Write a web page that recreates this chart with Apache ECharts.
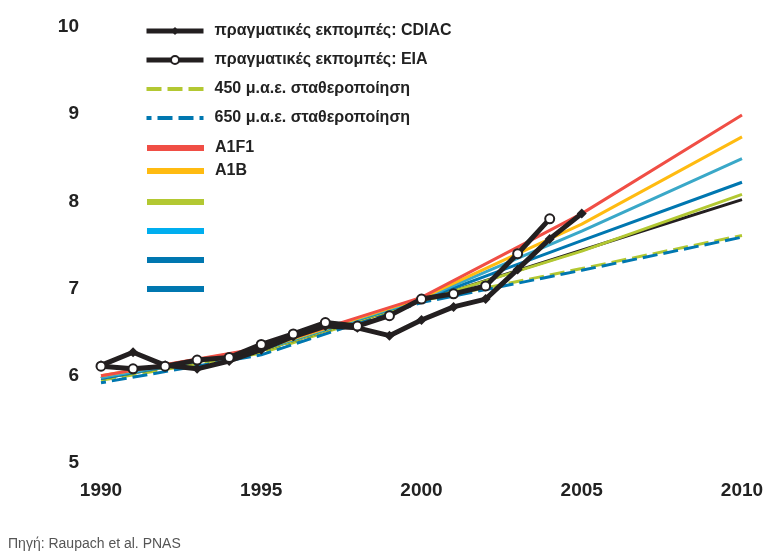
<!DOCTYPE html>
<html>
<head>
<meta charset="utf-8">
<script src="https://cdn.jsdelivr.net/npm/echarts@6/dist/echarts.min.js"></script>
<style>html,body{margin:0;padding:0;background:#fff;}#c{width:768px;height:552px;}</style>
</head>
<body>
<div id="c"></div>
<script>
// ---- data ----
const cdiacYears = [1990,1991,1992,1993,1994,1995,1996,1997,1998,1999,2000,2001,2002,2003,2004,2005];
const cdiac = [6.12,6.27,6.12,6.08,6.17,6.30,6.45,6.57,6.55,6.46,6.64,6.79,6.88,7.22,7.57,7.86];
const eiaYears = [1990,1991,1992,1993,1994,1995,1996,1997,1998,1999,2000,2001,2002,2003,2004];
const eia = [6.11,6.08,6.11,6.18,6.21,6.36,6.48,6.61,6.57,6.69,6.88,6.94,7.03,7.40,7.80];
const scenYears = [1990,1995,2000,2005,2010];
const a1f1 = [6.00,6.32,6.90,7.86,8.99];
const a1b  = [6.00,6.31,6.89,7.74,8.74];
const a1t  = [5.98,6.30,6.88,7.66,8.49];
const a2   = [5.97,6.30,6.87,7.55,8.22];
const b1   = [5.97,6.29,6.86,7.43,8.08];
const b2   = [5.97,6.29,6.86,7.44,8.02];
const s450 = [5.95,6.26,6.86,7.23,7.61];
const s650 = [5.92,6.24,6.84,7.21,7.59];
const yTicks = [5,6,7,8,9,10];
const xTicks = [1990,1995,2000,2005,2010];
const names = {
  cdiac: 'πραγματικές εκπομπές: CDIAC',
  eia: 'πραγματικές εκπομπές: EIA',
  s450: '450 μ.α.ε. σταθεροποίηση',
  s650: '650 μ.α.ε. σταθεροποίηση',
  a1f1: 'A1F1', a1b: 'A1B', b1: 'B1', a1t: 'A1T', a2: 'A2', b2: 'B2'
};
const sourceText = 'Πηγή: Raupach et al. PNAS';

const FONT = 'Liberation Sans, Arial, sans-serif';
const pair = (xs, ys) => xs.map((x, i) => [x, ys[i]]);
const chart = echarts.init(document.getElementById('c'));
const solid = (name, ys, color, z) => ({
  name, type: 'line', data: pair(scenYears, ys), showSymbol: false, symbol: 'none',
  lineStyle: { color, width: 3 }, itemStyle: { color }, z, animation: false
});
const blank = new Set([names.b1, names.a1t, names.a2, names.b2]);
const legendText = { fontSize: 16, fontWeight: 'bold', color: '#222', fontFamily: FONT, padding: [0,0,0,6], lineHeight: 16 };
const legBase = { orient: 'vertical', left: 144, padding: 0, itemWidth: 57, itemHeight: 10, textStyle: legendText,
  formatter: n => blank.has(n) ? '' : n, selectedMode: false };
const hideSym = { opacity: 0 };
const legItem = (name, color, width) => {
  const o = { name, itemStyle: hideSym, lineStyle: { width } };
  if (color) o.lineStyle.color = color;
  return o;
};

chart.setOption({
  animation: false,
  grid: { left: 101, right: 26, top: 27, bottom: 89 },
  xAxis: {
    type: 'value', min: 1990, max: 2010, interval: 5,
    axisLine: { show: false }, axisTick: { show: false }, splitLine: { show: false },
    axisLabel: { margin: 18, fontSize: 19, fontWeight: 'bold', color: '#222', fontFamily: FONT,
      formatter: v => xTicks.includes(v) ? String(v) : '' }
  },
  yAxis: {
    type: 'value', min: 5, max: 10, interval: 1,
    axisLine: { show: false }, axisTick: { show: false }, splitLine: { show: false },
    axisLabel: { margin: 22, fontSize: 19, fontWeight: 'bold', color: '#222', fontFamily: FONT,
      formatter: v => yTicks.includes(v) ? String(v) : '' }
  },
  legend: [
    Object.assign({}, legBase, { top: 23, itemGap: 13, data: [
      { name: names.cdiac, lineStyle: { width: 5 } },
      { name: names.eia, lineStyle: { width: 5 } },
      legItem(names.s450, null, 4),
      legItem(names.s650, null, 4)
    ] }),
    Object.assign({}, legBase, { top: 140, itemGap: 7, data: [
      legItem(names.a1f1, null, 6),
      legItem(names.a1b, null, 6)
    ] }),
    Object.assign({}, legBase, { top: 198, itemGap: 21, data: [
      legItem(names.b1, null, 6),
      legItem(names.a1t, '#00aeef', 6),
      legItem(names.a2, null, 6),
      legItem(names.b2, '#0077b0', 6)
    ] })
  ],
  graphic: [{ type: 'text', left: 8, top: 537, style: { text: sourceText, fontSize: 14, fill: '#555', fontFamily: FONT } }],
  series: [
    { name: names.s450, type: 'line', data: pair(scenYears, s450), symbol: 'none', z: 2,
      lineStyle: { color: '#b3c832', width: 3, type: [15, 6] }, itemStyle: { color: '#b3c832' } },
    { name: names.s650, type: 'line', data: pair(scenYears, s650), symbol: 'none', z: 2,
      lineStyle: { color: '#0077b0', width: 3, type: [15, 6], dashOffset: 10 }, itemStyle: { color: '#0077b0' } },
    solid(names.b2, b2, '#231f20', 3),
    solid(names.b1, b1, '#b3c832', 3),
    solid(names.a2, a2, '#0077b0', 3),
    solid(names.a1t, a1t, '#3aa8c8', 3),
    solid(names.a1b, a1b, '#ffbb11', 3),
    solid(names.a1f1, a1f1, '#f04e45', 3),
    { name: names.cdiac, type: 'line', data: pair(cdiacYears, cdiac), symbol: 'diamond', symbolSize: 10, showSymbol: true, z: 5,
      lineStyle: { color: '#231f20', width: 5 }, itemStyle: { color: '#231f20' } },
    { name: names.eia, type: 'line', data: pair(eiaYears, eia), symbol: 'circle', symbolSize: 9, showSymbol: true, z: 6,
      lineStyle: { color: '#231f20', width: 5 }, itemStyle: { color: '#fff', borderColor: '#231f20', borderWidth: 2 } }
  ]
});
</script>
</body>
</html>
